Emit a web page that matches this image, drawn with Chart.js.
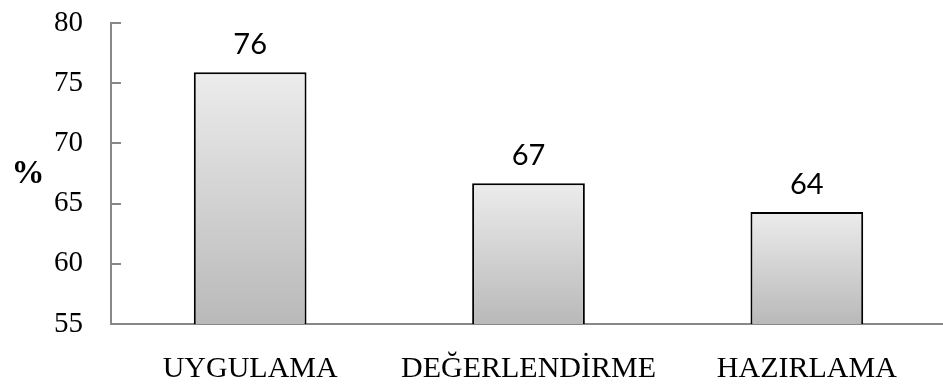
<!DOCTYPE html>
<html>
<head>
<meta charset="utf-8">
<script src="https://cdn.jsdelivr.net/npm/chart.js@4/dist/chart.umd.min.js"></script>
<style>
  html, body { margin: 0; padding: 0; background: #fff; overflow: hidden; }
  #wrap { width: 943px; height: 389px; overflow: hidden; }
</style>
</head>
<body>
<div id="wrap"><canvas id="grafica" width="950" height="389"></canvas></div>
<script>
const categorias = ["UYGULAMA", "DEĞERLENDİRME", "HAZIRLAMA"];
const valores = [75.9, 66.7, 64.3];
const etiquetas = ["76", "67", "64"];
const yMin = 55, yMax = 80, yPaso = 5;

const serif = "'Liberation Serif', 'Times New Roman', serif";
const sans = "Lato, 'Open Sans', sans-serif";

// degradado por barra, claro arriba y oscuro abajo
function relleno(context) {
  const chart = context.chart;
  if (!chart.chartArea || context.dataIndex === undefined) return "#d4d4d4";
  const y = chart.scales.y;
  const top = y.getPixelForValue(context.raw);
  const bottom = y.getPixelForValue(yMin);
  const g = chart.ctx.createLinearGradient(0, top, 0, bottom);
  g.addColorStop(0, "#ececec");
  g.addColorStop(1, "#b9b9b9");
  return g;
}

const marcasDentro = {
  id: "marcasDentro",
  afterDraw(chart) {
    const y = chart.scales.y;
    const ctx = chart.ctx;
    ctx.save();
    ctx.strokeStyle = "#888";
    ctx.lineWidth = 2;
    y.ticks.forEach(t => {
      const py = Math.round(y.getPixelForValue(t.value));
      ctx.beginPath();
      ctx.moveTo(y.right, py);
      ctx.lineTo(y.right + 10, py);
      ctx.stroke();
    });
    // signo de porcentaje
    ctx.fillStyle = "#000";
    ctx.font = "bold 33px " + serif;
    ctx.textAlign = "center";
    ctx.textBaseline = "middle";
    ctx.fillText("%", 28, 174);
    ctx.restore();
  }
};

const etiquetasBarras = {
  id: "etiquetasBarras",
  afterDatasetsDraw(chart) {
    const ctx = chart.ctx;
    const meta = chart.getDatasetMeta(0);
    ctx.save();
    ctx.fillStyle = "#000";
    ctx.font = "29px " + sans;
    ctx.textAlign = "center";
    ctx.textBaseline = "alphabetic";
    meta.data.forEach((bar, i) => {
      ctx.fillText(etiquetas[i], bar.x, bar.y - 18);
    });
    ctx.restore();
  }
};

new Chart(document.getElementById("grafica").getContext("2d"), {
  type: "bar",
  data: {
    labels: categorias,
    datasets: [{
      data: valores,
      backgroundColor: relleno,
      borderColor: "#000",
      borderWidth: 2,
      borderSkipped: "bottom",
      barPercentage: 0.405,
      categoryPercentage: 1
    }]
  },
  options: {
    responsive: false,
    animation: false,
    layout: { padding: { top: 23, right: 4, left: 0, bottom: 0 } },
    plugins: { legend: { display: false }, tooltip: { enabled: false } },
    scales: {
      x: {
        grid: { display: false, drawTicks: false },
        border: { color: "#888", width: 2 },
        ticks: { color: "#000", font: { family: serif, size: 30 }, padding: 27 },
        afterFit(scale) { scale.height = 65; scale.paddingLeft = 0; scale.paddingRight = 0; }
      },
      y: {
        min: yMin,
        max: yMax,
        grid: { display: false, drawTicks: false },
        border: { color: "#888", width: 2 },
        ticks: { stepSize: yPaso, color: "#000", font: { family: serif, size: 29 }, padding: 28 },
        afterFit(scale) { scale.width = 111; scale.paddingTop = 0; scale.paddingBottom = 0; }
      }
    }
  },
  plugins: [marcasDentro, etiquetasBarras]
});
</script>
</body>
</html>
